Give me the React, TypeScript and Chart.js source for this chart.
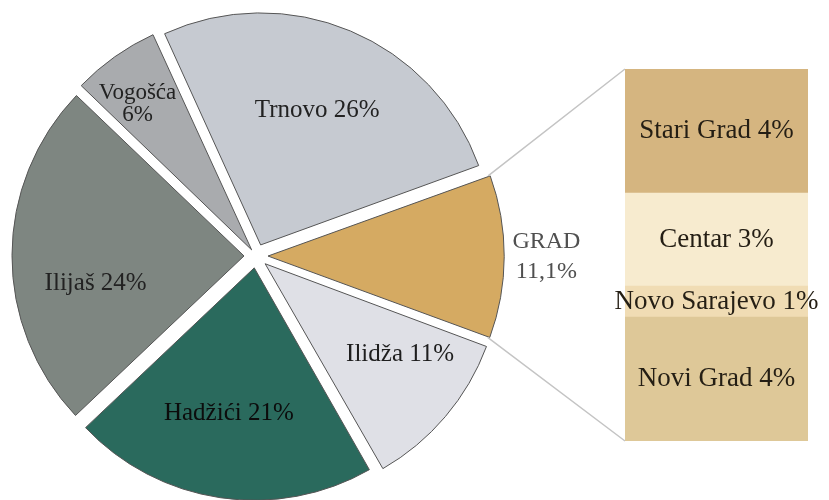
import React, { useEffect, useRef } from "react";
import { Chart, registerables } from "chart.js";

Chart.register(...registerables);

// ---- data ----
const DISTRICTS = ["GRAD", "Ilidža", "Hadžići", "Ilijaš", "Vogošća", "Trnovo"];
const DISTRICT_SHARES = [11.1, 11, 21, 24, 6, 26];
const DISTRICT_LABELS = [
  ["GRAD", "11,1%"],
  ["Ilidža 11%"],
  ["Hadžići 21%"],
  ["Ilijaš 24%"],
  ["Vogošća", "6%"],
  ["Trnovo 26%"],
];
// city parts of GRAD, listed bottom to top of the bar
const CITY_PARTS = ["Novi Grad", "Novo Sarajevo", "Centar", "Stari Grad"];
const CITY_SHARES = [4, 1, 3, 4];
const CITY_LABELS = ["Novi Grad 4%", "Novo Sarajevo 1%", "Centar 3%", "Stari Grad 4%"];

// ---- styles / layout ----
const W = 829;
const H = 500;
const PIE_COLORS = ["#d5aa62", "#dfe0e6", "#2a6a5d", "#7e8681", "#a9abae", "#c6cad1"];
const PIE_OFFSETS = [48, 48, 48, 48, 30, 48];
const BAR_COLORS = ["#dec898", "#f0dcb4", "#f7ebcf", "#d5b580"];
const PIE_LABEL_PLACE = [
  { r: 1.2, da: 0, size: 24, color: "#505050", lh: 30 },
  { r: 0.7, da: -6.5, size: 25, color: "#1e1e1e", lh: 28 },
  { r: 0.635, da: 1.5, size: 25, color: "#0c0c0c", lh: 28 },
  { r: 0.65, da: -10.5, size: 25, color: "#222222", lh: 28 },
  { r: 0.8, da: -2.6, size: 23, color: "#222222", lh: 22 },
  { r: 0.63, da: 0, size: 25, color: "#222222", lh: 28 },
];
const FONT = '"Liberation Serif", "Times New Roman", serif';
const BAR_BOX = { left: 600, top: 40, width: 229, height: 420 };

export default function App() {
  const pieRef = useRef<HTMLCanvasElement | null>(null);
  const barRef = useRef<HTMLCanvasElement | null>(null);

  useEffect(() => {
    if (!pieRef.current || !barRef.current) return;

    const barLabels = {
      id: "barLabels",
      afterDatasetsDraw(chart: any) {
        const ctx = chart.ctx;
        ctx.save();
        ctx.textAlign = "center";
        ctx.textBaseline = "middle";
        ctx.fillStyle = "#241e14";
        ctx.font = `27px ${FONT}`;
        chart.data.datasets.forEach((ds: any, i: number) => {
          const el = chart.getDatasetMeta(i).data[0];
          ctx.fillText(CITY_LABELS[i], el.x, (el.y + el.base) / 2);
        });
        ctx.restore();
      },
    };

    const barChart = new Chart(barRef.current, {
      type: "bar",
      data: {
        labels: ["GRAD"],
        datasets: CITY_PARTS.map((name, i) => ({
          label: name,
          data: [CITY_SHARES[i]],
          backgroundColor: BAR_COLORS[i],
          borderWidth: 0,
          barPercentage: 1,
          categoryPercentage: 1,
        })),
      },
      options: {
        responsive: false,
        animation: false,
        events: [],
        layout: { padding: { left: 25, right: 21, top: 29, bottom: 19 } },
        plugins: { legend: { display: false }, tooltip: { enabled: false } },
        scales: {
          x: { stacked: true, display: false },
          y: {
            stacked: true,
            display: false,
            min: 0,
            max: CITY_SHARES.reduce((a, b) => a + b, 0),
          },
        },
      },
      plugins: [barLabels],
    });

    const pieExtras = {
      id: "pieExtras",
      afterDatasetsDraw(chart: any) {
        const ctx = chart.ctx;
        const meta = chart.getDatasetMeta(0);
        ctx.save();
        // connector lines from GRAD slice to the bar
        const g = meta.data[0];
        const shift = (g.options.offset || 0) / 4;
        const gm = (g.startAngle + g.endAngle) / 2;
        const gcx = g.x + Math.cos(gm) * shift;
        const gcy = g.y + Math.sin(gm) * shift;
        const circ = g.endAngle - g.startAngle;
        const gR = g.outerRadius + shift * (1 - Math.sin(Math.min(Math.PI, circ)));
        const topEl = barChart.getDatasetMeta(CITY_PARTS.length - 1).data[0] as any;
        const botEl = barChart.getDatasetMeta(0).data[0] as any;
        const barLeft = BAR_BOX.left + topEl.x - topEl.width / 2;
        const barTop = BAR_BOX.top + topEl.y;
        const barBottom = BAR_BOX.top + botEl.base;
        ctx.strokeStyle = "#c4c4c4";
        ctx.lineWidth = 1.5;
        ctx.beginPath();
        ctx.moveTo(gcx + Math.cos(g.startAngle) * (gR - 2), gcy + Math.sin(g.startAngle) * (gR - 2));
        ctx.lineTo(barLeft, barTop);
        ctx.moveTo(gcx + Math.cos(g.endAngle) * (gR - 2), gcy + Math.sin(g.endAngle) * (gR - 2));
        ctx.lineTo(barLeft, barBottom);
        ctx.stroke();

        // slice labels
        ctx.textAlign = "center";
        ctx.textBaseline = "middle";
        meta.data.forEach((el: any, i: number) => {
          const p = PIE_LABEL_PLACE[i];
          const off = (el.options.offset || 0) / 4;
          const mid = (el.startAngle + el.endAngle) / 2;
          const cx = el.x + Math.cos(mid) * off;
          const cy = el.y + Math.sin(mid) * off;
          const a = mid + (p.da * Math.PI) / 180;
          const r = el.outerRadius * p.r;
          const lx = cx + Math.cos(a) * r;
          const ly = cy + Math.sin(a) * r;
          const lines = DISTRICT_LABELS[i];
          ctx.fillStyle = p.color;
          ctx.font = `${p.size}px ${FONT}`;
          lines.forEach((t, k) => {
            ctx.fillText(t, lx, ly + (k - (lines.length - 1) / 2) * p.lh);
          });
        });
        ctx.restore();
      },
    };

    const pieChart = new Chart(pieRef.current, {
      type: "pie",
      data: {
        labels: DISTRICTS,
        datasets: [
          {
            data: DISTRICT_SHARES,
            backgroundColor: PIE_COLORS,
            borderColor: "#555555",
            borderWidth: 1,
            offset: PIE_OFFSETS,
            hoverOffset: 0,
          },
        ],
      },
      options: {
        responsive: false,
        animation: false,
        events: [],
        rotation: 70,
        radius: 232,
        layout: { padding: { left: 0, right: W - 512, top: 12, bottom: 0 } },
        plugins: { legend: { display: false }, tooltip: { enabled: false } },
      },
      plugins: [pieExtras],
    });

    return () => {
      pieChart.destroy();
      barChart.destroy();
    };
  }, []);

  return (
    <div style={{ position: "absolute", left: 0, top: 0, width: W, height: H, background: "#ffffff" }}>
      <canvas
        ref={pieRef}
        width={W}
        height={H}
        style={{ position: "absolute", left: 0, top: 0, width: W, height: H }}
      />
      <canvas
        ref={barRef}
        width={BAR_BOX.width}
        height={BAR_BOX.height}
        style={{
          position: "absolute",
          left: BAR_BOX.left,
          top: BAR_BOX.top,
          width: BAR_BOX.width,
          height: BAR_BOX.height,
        }}
      />
    </div>
  );
}
